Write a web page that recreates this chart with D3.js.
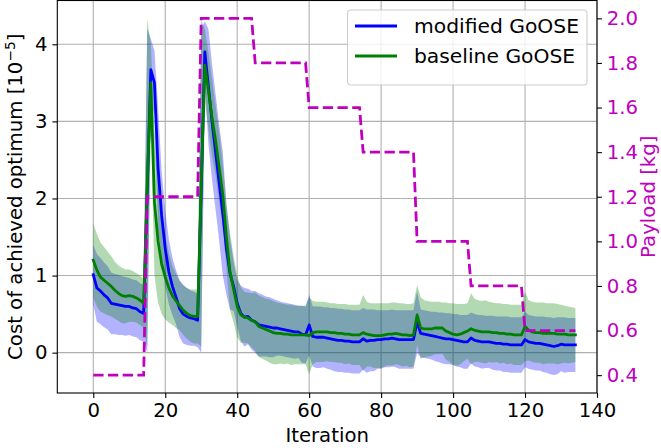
<!DOCTYPE html>
<html><head><meta charset="utf-8">
<script src="https://cdnjs.cloudflare.com/ajax/libs/d3/7.8.5/d3.min.js"></script>
<style>body{margin:0;background:#fff}svg{display:block}</style>
</head><body>
<svg id="chart" width="661" height="448"></svg>
<script>
// ---------------- data ----------------
const seriesNames = ["modified GoOSE", "baseline GoOSE"];
const xTicks = [0, 20, 40, 60, 80, 100, 120, 140];
const yLeftTicks = [0, 1, 2, 3, 4];
const yRightTicks = [0.4, 0.6, 0.8, 1.0, 1.2, 1.4, 1.6, 1.8, 2.0];

// payload levels (kg) and first iteration of each level
const payloadLevels = [0.4, 1.2, 2.0, 1.8, 1.6, 1.4, 1.0, 0.8, 0.6];
const payloadStarts = [0, 15, 30, 45, 60, 75, 90, 105, 120];
const lastIteration = 134;

// mean cost [1e-5], modified GoOSE (iterations 0..134)
const modifiedMean = [
 1.01,0.84,0.80,0.75,0.71,0.64,0.63,0.62,0.61,0.60,0.60,0.58,0.57,0.53,0.51,
 2.10,3.67,3.50,2.40,1.78,1.35,1.05,0.86,0.72,0.57,0.50,0.47,0.45,0.44,0.42,
 2.10,3.90,3.45,3.00,2.60,2.20,1.80,1.35,1.03,0.86,0.64,0.51,0.46,0.47,0.42,
 0.40,0.36,0.35,0.34,0.33,0.32,0.32,0.31,0.30,0.29,0.28,0.27,0.27,0.24,0.23,
 0.36,0.21,0.20,0.20,0.20,0.19,0.18,0.17,0.16,0.16,0.15,0.15,0.14,0.14,0.14,
 0.18,0.15,0.16,0.16,0.17,0.17,0.18,0.18,0.19,0.18,0.17,0.17,0.17,0.17,0.17,
 0.40,0.25,0.24,0.23,0.22,0.21,0.20,0.19,0.18,0.18,0.17,0.16,0.15,0.14,0.14,
 0.19,0.16,0.15,0.14,0.14,0.14,0.13,0.12,0.12,0.11,0.11,0.10,0.10,0.10,0.10,
 0.17,0.14,0.13,0.12,0.12,0.11,0.10,0.09,0.08,0.09,0.11,0.10,0.10,0.10,0.10];
const modifiedStd = [
 0.39,0.44,0.43,0.42,0.41,0.40,0.39,0.39,0.38,0.38,0.37,0.37,0.37,0.37,0.37,
 2.10,0.40,0.42,0.80,0.57,0.50,0.42,0.37,0.35,0.37,0.38,0.37,0.36,0.35,0.35,
 2.10,0.40,0.75,0.75,0.75,0.75,0.80,0.60,0.47,0.32,0.30,0.36,0.38,0.36,0.38,
 0.40,0.41,0.40,0.39,0.39,0.38,0.36,0.35,0.35,0.35,0.35,0.35,0.34,0.37,0.37,
 0.39,0.39,0.40,0.40,0.39,0.40,0.40,0.41,0.41,0.41,0.41,0.41,0.41,0.41,0.41,
 0.40,0.41,0.40,0.40,0.38,0.38,0.37,0.37,0.37,0.37,0.38,0.38,0.38,0.38,0.38,
 0.40,0.31,0.31,0.31,0.31,0.32,0.32,0.33,0.33,0.33,0.33,0.34,0.34,0.35,0.35,
 0.33,0.34,0.34,0.35,0.34,0.34,0.35,0.35,0.35,0.36,0.36,0.36,0.36,0.36,0.36,
 0.36,0.35,0.35,0.35,0.35,0.36,0.36,0.37,0.37,0.37,0.35,0.36,0.35,0.35,0.35];

// mean cost [1e-5], baseline GoOSE
const baselineMean = [
 1.20,1.07,0.98,0.94,0.90,0.86,0.81,0.77,0.74,0.73,0.74,0.73,0.71,0.68,0.64,
 2.20,3.50,1.95,1.45,1.15,0.98,0.84,0.74,0.67,0.61,0.55,0.51,0.48,0.47,0.47,
 2.20,3.73,3.40,3.05,2.75,2.40,2.05,1.50,1.05,0.82,0.60,0.49,0.46,0.45,0.42,
 0.40,0.34,0.32,0.30,0.28,0.26,0.25,0.25,0.24,0.24,0.23,0.23,0.23,0.23,0.23,
 0.22,0.26,0.27,0.27,0.27,0.27,0.26,0.26,0.25,0.25,0.24,0.24,0.23,0.23,0.23,
 0.26,0.24,0.23,0.22,0.22,0.22,0.23,0.24,0.24,0.25,0.24,0.23,0.23,0.22,0.23,
 0.49,0.32,0.31,0.31,0.31,0.32,0.32,0.32,0.28,0.26,0.24,0.23,0.24,0.26,0.28,
 0.31,0.29,0.28,0.27,0.27,0.27,0.26,0.26,0.25,0.25,0.24,0.24,0.23,0.23,0.23,
 0.34,0.29,0.27,0.26,0.26,0.25,0.25,0.25,0.25,0.24,0.24,0.24,0.23,0.23,0.23];
const baselineStd = [
 0.48,0.47,0.45,0.43,0.41,0.39,0.37,0.36,0.36,0.35,0.34,0.33,0.32,0.32,0.32,
 2.13,0.50,0.95,0.80,0.65,0.55,0.45,0.38,0.35,0.32,0.32,0.33,0.34,0.35,0.35,
 2.12,0.47,0.50,0.50,0.45,0.45,0.40,0.40,0.50,0.43,0.40,0.36,0.33,0.33,0.35,
 0.38,0.40,0.40,0.40,0.41,0.41,0.40,0.39,0.39,0.38,0.39,0.38,0.38,0.38,0.38,
 0.50,0.41,0.39,0.39,0.39,0.38,0.38,0.38,0.38,0.38,0.39,0.38,0.39,0.39,0.39,
 0.49,0.42,0.41,0.42,0.42,0.42,0.41,0.40,0.41,0.40,0.40,0.41,0.40,0.41,0.41,
 0.39,0.40,0.37,0.36,0.35,0.34,0.34,0.33,0.37,0.38,0.40,0.40,0.39,0.37,0.36,
 0.46,0.41,0.40,0.40,0.41,0.39,0.39,0.38,0.39,0.38,0.39,0.38,0.39,0.39,0.39,
 0.45,0.39,0.39,0.39,0.39,0.40,0.39,0.39,0.39,0.39,0.38,0.37,0.37,0.36,0.35];

// ---------------- chart ----------------
const L = 57.3, R = 597, T = 0.5, B = 393;
const FONT = "'DejaVu Sans', sans-serif";
const FS = 19.7;
const LFS = 20.3;
const MAG = "#bf00bf";

const svg = d3.select("#chart");
const x = d3.scaleLinear().domain([-10, 140]).range([L, R]);
const yL = d3.scaleLinear().domain([-0.5232, 4.5681]).range([B, T]);
const yR = d3.scaleLinear().domain([0.32, 2.08]).range([B, T]);

// grid
const grid = svg.append("g");
grid.selectAll("line.gx").data(xTicks).join("line")
  .attr("x1", d => x(d)).attr("x2", d => x(d)).attr("y1", T).attr("y2", B)
  .attr("stroke", "#b0b0b0").attr("stroke-width", 1.1);
grid.selectAll("line.gy").data(yLeftTicks).join("line")
  .attr("x1", L).attr("x2", R).attr("y1", d => yL(d)).attr("y2", d => yL(d))
  .attr("stroke", "#b0b0b0").attr("stroke-width", 1.1);

const series = [
  {name: seriesNames[0], mean: modifiedMean, std: modifiedStd, color: "#0000ff"},
  {name: seriesNames[1], mean: baselineMean, std: baselineStd, color: "#008000"}
];

const area = d3.area()
  .x((d, i) => x(i))
  .y0(d => yL(d.m - d.s))
  .y1(d => yL(d.m + d.s));
const line = d3.line().x((d, i) => x(i)).y(d => yL(d));

series.forEach(s => {
  const pts = s.mean.map((m, i) => ({m, s: s.std[i]}));
  svg.append("path").datum(pts).attr("d", area)
    .attr("fill", s.color).attr("fill-opacity", 0.3).attr("stroke", "none");
});
series.forEach(s => {
  svg.append("path").datum(s.mean).attr("d", line)
    .attr("fill", "none").attr("stroke", s.color).attr("stroke-width", 2.78)
    .attr("stroke-linejoin", "round").attr("stroke-linecap", "square");
});

// payload step curve (twin axis)
const payload = [];
for (let i = 0; i <= lastIteration; i++) {
  let k = 0;
  payloadStarts.forEach((s, j) => { if (i >= s) k = j; });
  payload.push(payloadLevels[k]);
}
svg.append("path").datum(payload)
  .attr("d", d3.line().x((d, i) => x(i)).y(d => yR(d)))
  .attr("fill", "none").attr("stroke", MAG).attr("stroke-width", 2.78)
  .attr("stroke-dasharray", "10.3,4.4");

// axes
function styleAxis(g, color) {
  g.select(".domain").remove();
  g.selectAll(".tick line").attr("stroke", "#000").attr("stroke-width", 1.1);
  g.selectAll(".tick text").attr("font-family", FONT).attr("font-size", FS).attr("fill", color);
}
const gx = svg.append("g").attr("transform", `translate(0,${B})`)
  .call(d3.axisBottom(x).tickValues(xTicks).tickSize(4.9).tickPadding(4.9).tickFormat(d3.format("d")));
styleAxis(gx, "#000");
const gyl = svg.append("g").attr("transform", `translate(${L},0)`)
  .call(d3.axisLeft(yL).tickValues(yLeftTicks).tickSize(4.9).tickPadding(4.9).tickFormat(d3.format("d")));
styleAxis(gyl, "#000");
const gyr = svg.append("g").attr("transform", `translate(${R},0)`)
  .call(d3.axisRight(yR).tickValues(yRightTicks).tickSize(4.9).tickPadding(4.9).tickFormat(d3.format(".1f")));
styleAxis(gyr, MAG);

// spines
svg.append("rect").attr("x", L).attr("y", T).attr("width", R - L).attr("height", B - T)
  .attr("fill", "none").attr("stroke", "#000").attr("stroke-width", 1.1);

// axis labels
svg.append("text").attr("x", (L + R) / 2).attr("y", 442)
  .attr("text-anchor", "middle").attr("font-family", FONT).attr("font-size", FS)
  .text("Iteration");
const yl = svg.append("text")
  .attr("transform", `translate(22.4,${(T + B) / 2}) rotate(-90)`)
  .attr("text-anchor", "middle").attr("font-family", FONT).attr("font-size", FS);
yl.append("tspan").text("Cost of achieved optimum [10");
yl.append("tspan").attr("font-size", FS * 0.7).attr("dy", -7.5).text("\u22125");
yl.append("tspan").attr("dy", 7.5).text("]");
svg.append("text")
  .attr("transform", `translate(655.4,${(T + B) / 2}) rotate(-90)`)
  .attr("text-anchor", "middle").attr("font-family", FONT).attr("font-size", FS)
  .attr("fill", MAG).text("Payload [kg]");

// legend
const lg = svg.append("g");
lg.append("rect").attr("x", 347.5).attr("y", 10).attr("width", 239.5).attr("height", 75)
  .attr("rx", 3.5).attr("fill", "#fff").attr("fill-opacity", 0.8)
  .attr("stroke", "#cccccc").attr("stroke-width", 1.1);
series.forEach((s, i) => {
  const yy = 26 + i * 30;
  lg.append("line").attr("x1", 355).attr("x2", 397).attr("y1", yy).attr("y2", yy)
    .attr("stroke", s.color).attr("stroke-width", 2.78);
  lg.append("text").attr("x", 414).attr("y", yy + 7.3)
    .attr("font-family", FONT).attr("font-size", LFS).text(s.name);
});
</script>
</body></html>
